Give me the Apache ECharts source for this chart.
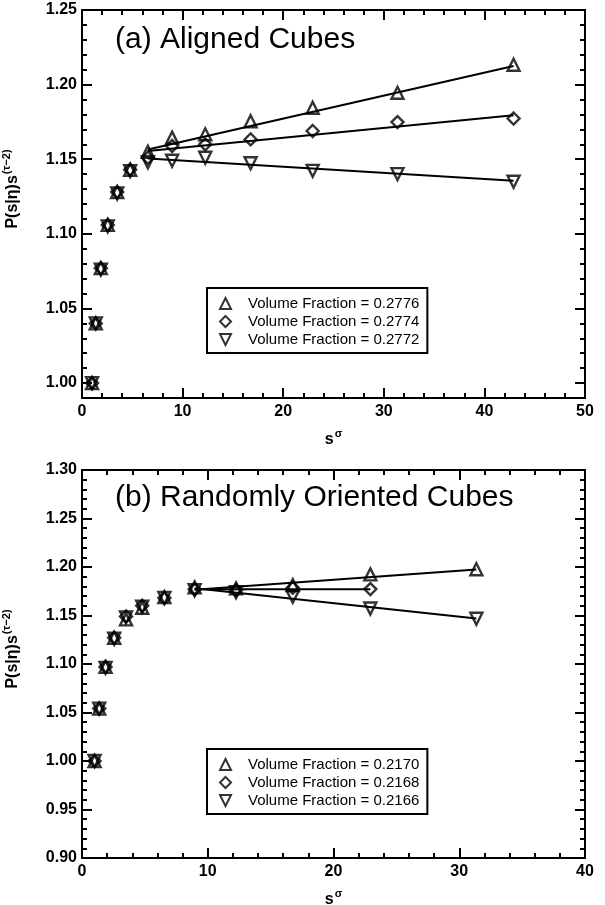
<!DOCTYPE html>
<html>
<head>
<meta charset="utf-8">
<script src="https://cdn.jsdelivr.net/npm/echarts@6/dist/echarts.min.js"></script>
<style>
html,body{margin:0;padding:0;background:#fff;}
#chart{width:605px;height:905px;}
</style>
</head>
<body>
<div id="chart"></div>
<script>
/** data **/
// panel (a): aligned cubes
var sTop = [1, 1.368, 1.871, 2.559, 3.500, 4.788, 6.549, 8.958, 12.25, 16.76, 22.93, 31.36, 42.90];
var topUp = [1.000, 1.040, 1.077, 1.106, 1.128, 1.143, 1.155, 1.1645, 1.1667, 1.1755, 1.1845, 1.1945, 1.2133];
var topDia = [1.000, 1.040, 1.077, 1.106, 1.128, 1.143, 1.151, 1.1589, 1.1600, 1.1633, 1.1689, 1.1749, 1.1773];
var topDown = [1.000, 1.040, 1.076, 1.105, 1.127, 1.142, 1.148, 1.1490, 1.1510, 1.1473, 1.1422, 1.1400, 1.1349];
var topFitX = [6.55, 42.9];
var topFitUp = [1.1565, 1.2125];
var topFitDia = [1.1555, 1.1795];
var topFitDown = [1.1505, 1.1355];
var topNames = ['Volume Fraction = 0.2776', 'Volume Fraction = 0.2774', 'Volume Fraction = 0.2772'];

// panel (b): randomly oriented cubes
var sBot = [1, 1.368, 1.871, 2.559, 3.500, 4.788, 6.549, 8.958, 12.25, 16.76, 22.93, 31.36];
var botUp = [1.000, 1.054, 1.097, 1.127, 1.146, 1.158, 1.169, 1.179, 1.178, 1.1813, 1.1924, 1.1977];
var botDia = [1.000, 1.054, 1.097, 1.127, 1.149, 1.160, 1.168, 1.177, 1.176, 1.1785, 1.1772];
var botDown = [1.000, 1.054, 1.096, 1.126, 1.148, 1.159, 1.168, 1.176, 1.174, 1.1692, 1.1572, 1.1466];
var botFitUpX = [8.96, 31.36];
var botFitUp = [1.1765, 1.1975];
var botFitDiaX = [8.96, 22.93];
var botFitDia = [1.1770, 1.1770];
var botFitDownX = [8.96, 31.36];
var botFitDown = [1.1780, 1.1470];
var botNames = ['Volume Fraction = 0.2170', 'Volume Fraction = 0.2168', 'Volume Fraction = 0.2166'];

// tick values
var xTopTicks = [0, 10, 20, 30, 40, 50];
var xBotTicks = [0, 10, 20, 30, 40];
var yTopMajor = [1.00, 1.05, 1.10, 1.15, 1.20, 1.25];
var yTopMinor = [0.99, 1.00, 1.01, 1.02, 1.03, 1.04, 1.05, 1.06, 1.07, 1.08, 1.09, 1.10, 1.11, 1.12, 1.13,
    1.14, 1.15, 1.16, 1.17, 1.18, 1.19, 1.20, 1.21, 1.22, 1.23, 1.24, 1.25];
var yBotTicks = [0.90, 0.95, 1.00, 1.05, 1.10, 1.15, 1.20, 1.25, 1.30];

var FONT = '"Liberation Sans", Arial, Helvetica, sans-serif';
var DOWN = 'path://M0,0 L10,0 L5,10 Z';

function zip(xs, ys) {
    var out = [];
    for (var i = 0; i < ys.length; i++) {
        out.push([xs[i], ys[i]]);
    }
    return out;
}

var black = {color: '#000', width: 2};
var nameRich = {
    t: {fontSize: 16, fontWeight: 'bold', fontFamily: FONT, color: '#000'},
    s: {fontSize: 11, fontWeight: 'bold', fontFamily: FONT, color: '#000', padding: [0, 0, 12, 1]}
};
var tickFont = {color: '#000', fontSize: 16, fontWeight: 'bold', fontFamily: FONT};

/** x axis, bottom or mirrored on top **/
function xAxisOpt(grid, ticks, onTop) {
    return {
        gridIndex: grid,
        type: 'value',
        position: onTop ? 'top' : 'bottom',
        min: ticks[0],
        max: ticks[ticks.length - 1],
        interval: 10,
        axisLine: {onZero: false, lineStyle: black},
        axisTick: {inside: true, length: 10, lineStyle: black},
        minorTick: {show: true, splitNumber: 5, length: 5, lineStyle: black},
        splitLine: {show: false},
        minorSplitLine: {show: false},
        axisLabel: echarts.util.extend({show: !onTop, margin: 6}, tickFont),
        name: onTop ? '' : '{t|s}{s|σ}',
        nameLocation: 'middle',
        nameGap: 30,
        nameTextStyle: {rich: nameRich}
    };
}

/** y axis of panel (a): min 0.99, so ticks are given by hand **/
function yTopOpt(ticks, len, onRight, withLabel) {
    return {
        gridIndex: 0,
        type: 'value',
        position: onRight ? 'right' : 'left',
        min: 0.99,
        max: 1.25,
        axisLine: {show: len > 5, onZero: false, lineStyle: black},
        axisTick: {inside: true, length: len, lineStyle: black, customValues: ticks},
        splitLine: {show: false},
        axisLabel: echarts.util.extend({
            show: withLabel, customValues: ticks, margin: 5,
            formatter: function (v) { return v.toFixed(2); }
        }, tickFont),
        name: withLabel ? '{t|P(s|η)s}{s|(τ−2)}' : '',
        nameLocation: 'middle',
        nameRotate: 90,
        nameGap: 58,
        nameTextStyle: {rich: nameRich, padding: [0, 0, 0, 30]}
    };
}

/** y axis of panel (b) **/
function yBotOpt(onRight) {
    return {
        gridIndex: 1,
        type: 'value',
        position: onRight ? 'right' : 'left',
        min: 0.90,
        max: 1.30,
        interval: 0.05,
        axisLine: {onZero: false, lineStyle: black},
        axisTick: {inside: true, length: 10, lineStyle: black},
        minorTick: {show: true, splitNumber: 5, length: 5, lineStyle: black},
        splitLine: {show: false},
        minorSplitLine: {show: false},
        axisLabel: echarts.util.extend({
            show: !onRight, margin: 5,
            formatter: function (v) { return v.toFixed(2); }
        }, tickFont),
        name: onRight ? '' : '{t|P(s|η)s}{s|(τ−2)}',
        nameLocation: 'middle',
        nameRotate: 90,
        nameGap: 58,
        nameTextStyle: {rich: nameRich, padding: [0, 0, 0, 30]}
    };
}

function scatter(name, xi, yi, xs, ys, symbol) {
    return {
        name: name,
        type: 'scatter',
        xAxisIndex: xi,
        yAxisIndex: yi,
        symbol: symbol,
        symbolSize: 12,
        itemStyle: {color: 'rgba(0,0,0,0)', borderColor: '#000', borderWidth: 2.4},
        z: 3,
        data: zip(xs, ys)
    };
}

function fitLine(name, xi, yi, xs, ys) {
    return {
        name: name,
        type: 'line',
        xAxisIndex: xi,
        yAxisIndex: yi,
        symbol: 'none',
        lineStyle: {color: '#000', width: 2},
        z: 2,
        data: zip(xs, ys)
    };
}

function legendOpt(names, top) {
    return {
        data: names,
        orient: 'vertical',
        left: 207,
        top: top,
        padding: [8, 8, 6, 12],
        itemGap: 3,
        itemWidth: 11,
        itemHeight: 11,
        borderColor: '#000',
        borderWidth: 2,
        backgroundColor: '#fff',
        selectedMode: false,
        textStyle: {color: '#000', fontSize: 15, fontFamily: FONT, padding: [0, 0, 0, 12], lineHeight: 15}
    };
}

var option = {
    backgroundColor: '#fff',
    animation: false,
    title: [
        {text: '(a) Aligned Cubes', left: 115, top: 25, padding: 0,
            textStyle: {fontSize: 30, fontWeight: 'normal', fontFamily: FONT, color: '#000'}},
        {text: '(b) Randomly Oriented Cubes', left: 115, top: 483, padding: 0,
            textStyle: {fontSize: 30, fontWeight: 'normal', fontFamily: FONT, color: '#000'}}
    ],
    legend: [legendOpt(topNames, 288), legendOpt(botNames, 749)],
    grid: [
        {left: 82, right: 20, top: 10, height: 388, containLabel: false, outerBoundsMode: 'none'},
        {left: 82, right: 20, top: 470, height: 388, containLabel: false, outerBoundsMode: 'none'}
    ],
    xAxis: [
        xAxisOpt(0, xTopTicks, false),
        xAxisOpt(0, xTopTicks, true),
        xAxisOpt(1, xBotTicks, false),
        xAxisOpt(1, xBotTicks, true)
    ],
    yAxis: [
        yTopOpt(yTopMajor, 10, false, true),
        yTopOpt(yTopMinor, 5, false, false),
        yTopOpt(yTopMajor, 10, true, false),
        yTopOpt(yTopMinor, 5, true, false),
        yBotOpt(false),
        yBotOpt(true)
    ],
    series: [
        fitLine('fitA1', 0, 0, topFitX, topFitUp),
        fitLine('fitA2', 0, 0, topFitX, topFitDia),
        fitLine('fitA3', 0, 0, topFitX, topFitDown),
        scatter(topNames[0], 0, 0, sTop, topUp, 'triangle'),
        scatter(topNames[1], 0, 0, sTop, topDia, 'diamond'),
        scatter(topNames[2], 0, 0, sTop, topDown, DOWN),
        fitLine('fitB1', 2, 4, botFitUpX, botFitUp),
        fitLine('fitB2', 2, 4, botFitDiaX, botFitDia),
        fitLine('fitB3', 2, 4, botFitDownX, botFitDown),
        scatter(botNames[0], 2, 4, sBot, botUp, 'triangle'),
        scatter(botNames[1], 2, 4, sBot, botDia, 'diamond'),
        scatter(botNames[2], 2, 4, sBot, botDown, DOWN)
    ]
};

var myChart = echarts.init(document.getElementById('chart'), null, {renderer: 'canvas'});
myChart.setOption(option);
</script>
</body>
</html>
